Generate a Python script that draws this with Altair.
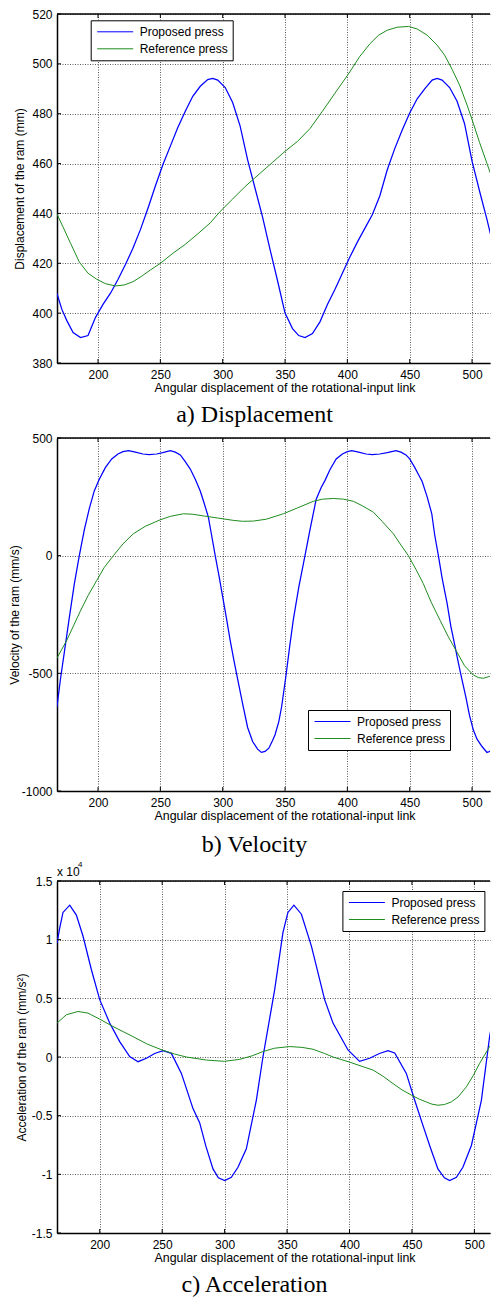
import altair as alt
import pandas as pd

SERIES = ["Proposed press", "Reference press"]
COLORS = ["#0000ff", "#1e8c1e"]
WIDTHS = [1.25, 1.0]
X_TICKS = [200, 250, 300, 350, 400, 450, 500]
X_TITLE = "Angular displacement of the rotational-input link"

# ---------- a) Displacement (mm) ----------
disp_prop_x = [167, 171, 175, 180, 186, 192, 198, 204, 210, 216, 222, 228, 234, 240, 246, 252,
               258, 264, 270, 276, 282, 288, 292, 296, 302, 308, 314, 320, 326, 332, 338, 344,
               350, 356, 361, 366, 372, 378, 384, 390, 396, 402, 408, 414, 420, 426, 432, 438,
               444, 450, 456, 462, 468, 472, 476, 482, 488, 494, 500, 506, 512, 518, 522.5]
disp_prop_y = [408, 401.5, 397, 392.2, 390.2, 391, 398.3, 403.5, 408, 413.5, 419.5, 426, 433.5, 442,
               451, 459.5, 467, 474.5, 481, 487, 491, 493.7, 494.2, 493.5, 490.5, 484.5, 475, 461.5,
               450, 438.5, 425.5, 413, 400, 393.8, 391, 390.2, 391.8, 396.5, 403.5, 409.5, 416,
               422.5, 428.5, 434, 439.5, 447, 457.5, 466, 473.5, 480.3, 486, 490, 493.5, 494.2,
               493.5, 490.5, 485, 476, 461, 449, 437.5, 425, 415]
disp_ref_x = [167, 172, 178, 185, 192, 199, 206, 214, 221, 228, 235, 242, 250, 260, 270, 280, 290,
              298, 308, 318, 330, 340, 350, 360, 370, 380, 390, 400, 410, 418, 425, 432, 440, 449,
              456, 464, 472, 478, 484, 490, 496, 501, 506, 512, 518, 522.5]
disp_ref_y = [439.8, 434.5, 428, 420.5, 416, 413.6, 411.8, 410.9, 411.3, 412.6, 414.8, 417.3, 420,
              424, 427.6, 431.8, 436.2, 440.8, 445.8, 450.8, 456.1, 460.5, 464.9, 468.9, 474, 481,
              488.2, 495.3, 503, 508, 511.5, 513.5, 514.7, 515, 514, 511.5, 507.5, 503.5, 497.8,
              491.5, 483.5, 476.2, 468.5, 460, 451.5, 445]

# ---------- b) Velocity (mm/s) ----------
vel_prop_x = [167, 170, 173, 177, 181, 185, 189, 193, 197, 201, 206, 211, 216, 220, 224.5, 230, 236,
              241, 247, 252, 258, 262, 266, 270, 274, 278, 282, 285, 288.5, 291, 294, 297, 300, 303,
              306, 309, 312, 316, 320, 324, 328, 331, 334, 337, 340, 342, 345, 347.3, 350.8, 353.5,
              356.6, 361, 366, 370, 375, 379, 382, 386, 391, 396, 400, 403.5, 409, 415, 420, 426,
              432, 439, 443, 447, 450, 454, 457, 460, 464, 467.7, 470, 473, 476, 480, 483, 486.4,
              489, 491.7, 495, 498, 501, 504, 508, 512, 514, 517, 520, 522.5]
vel_prop_y = [-645, -520, -410, -262, -120, 0, 110, 200, 275, 325, 375, 411, 432, 442, 446, 440, 432,
              429, 432, 438, 446, 440, 428, 400, 368, 325, 275, 225, 164, 90, 0, -85, -175, -265,
              -360, -445, -525, -630, -730, -790, -822, -836, -832, -818, -785, -761, -705, -641,
              -508, -395, -274, -135, 0, 110, 240, 290, 319, 365, 411, 432, 442, 446, 440, 432, 429,
              432, 438, 446, 440, 428, 411, 375, 345, 315, 250, 178, 90, 0, -95, -203, -300, -387,
              -455, -521, -600, -680, -740, -780, -811, -836, -832, -818, -785, -754]
vel_ref_x = [167, 175, 185.5, 192, 199, 205, 212.3, 220, 228.3, 238, 249.7, 258, 268.4, 276, 284.5,
             296, 308.5, 316, 324.6, 335, 348.6, 360, 372.7, 380, 388.7, 397, 404.8, 412, 420.8,
             428, 436.9, 443, 448.9, 455, 460.9, 467, 474.3, 481, 487.7, 494, 501, 505, 509.1, 514,
             518, 522.5]
vel_ref_y = [-436, -359, -239, -170, -105, -50, 0, 50, 93, 125, 152, 167, 178, 176, 169, 160, 150,
             146, 147, 155, 178, 203, 231, 240, 243, 240, 231, 212, 185, 145, 93, 45, 0, -58, -119,
             -195, -274, -345, -408, -468, -507, -518, -521, -513, -498, -475]

# ---------- c) Acceleration (x 10^4 mm/s^2) ----------
acc_prop_x = [165.8, 168, 170.6, 176, 181.3, 186.6, 193.3, 200, 208, 216, 224, 230.7, 237.4, 244,
              250.7, 257.4, 265.4, 274.7, 280, 285, 290.7, 295, 300.1, 305.4, 310.7, 317.4, 325.4,
              330.7, 340.1, 346.7, 350.7, 355.5, 361.5, 369.5, 380.1, 386.8, 398.8, 408.1, 416.1,
              424, 430.8, 436.2, 445.5, 452.2, 458.8, 465, 470.8, 476, 480.2, 485.6, 490.8, 497.6,
              505.6, 512.2, 520.3]
acc_prop_y = [0.97, 1.1, 1.232, 1.294, 1.209, 1.031, 0.746, 0.489, 0.289, 0.131, 0.003, -0.04, -0.011,
              0.03, 0.054, 0.031, -0.14, -0.44, -0.56, -0.76, -0.954, -1.03, -1.054, -1.026, -0.94,
              -0.783, -0.369, 0.0, 0.574, 1.06, 1.232, 1.294, 1.217, 0.945, 0.489, 0.289, 0.06,
              -0.037, -0.011, 0.03, 0.054, 0.034, -0.14, -0.369, -0.583, -0.78, -0.954, -1.03,
              -1.054, -1.026, -0.94, -0.754, -0.369, 0.174, 0.645]
acc_ref_x = [165.8, 173.3, 182.6, 190.6, 200, 210.6, 226.6, 238, 249.9, 260, 269.4, 285.4, 299.8,
             312, 322, 330.7, 340, 352.1, 362, 370.8, 380, 386.8, 399.9, 410, 418.8, 427, 434.8,
             442, 449.8, 456, 461.5, 466, 470.8, 476, 481.5, 487, 493.6, 499, 504.2, 512.2, 520.3]
acc_ref_y = [0.289, 0.36, 0.388, 0.374, 0.323, 0.26, 0.174, 0.11, 0.06, 0.025, 0.0, -0.026, -0.037,
             -0.02, 0.01, 0.046, 0.075, 0.089, 0.082, 0.066, 0.03, 0.0, -0.043, -0.08, -0.111,
             -0.165, -0.226, -0.28, -0.326, -0.36, -0.383, -0.402, -0.411, -0.405, -0.383, -0.34,
             -0.254, -0.16, -0.054, 0.089, 0.217]

W = 433


def make_df(x1, y1, x2, y2):
    return pd.DataFrame({
        "angle": list(x1) + list(x2),
        "value": list(y1) + list(y2),
        "series": [SERIES[0]] * len(x1) + [SERIES[1]] * len(x2),
    })


def panel(df, xdom, ydom, yticks, ytitle, title_x, height, leg_x, leg_y, caption, cap_offset,
          extra=None):
    xenc = alt.X("angle:Q",
                 scale=alt.Scale(domain=xdom, nice=False, zero=False),
                 axis=alt.Axis(values=X_TICKS, title=X_TITLE, grid=True, ticks=False,
                               domain=True, labelPadding=6, titlePadding=1,
                               titleX=97, titleAlign="left",
                               titleFontSize=12.4, labelFlush=False, labelOverlap=False))
    yenc = alt.Y("value:Q",
                 scale=alt.Scale(domain=ydom, nice=False, zero=False),
                 axis=alt.Axis(values=yticks, title=ytitle, grid=True, ticks=False,
                               domain=True, labelPadding=5, titleX=title_x,
                               titleBaseline="middle", labelFlush=False, labelOverlap=False,
                               labelExpr="datum.value + ''"))
    lines = alt.Chart(df).mark_line(clip=True).encode(
        x=xenc, y=yenc,
        color=alt.Color("series:N",
                        scale=alt.Scale(domain=SERIES, range=COLORS),
                        legend=alt.Legend(title=None, orient="none", legendX=leg_x, legendY=leg_y,
                                          direction="vertical", symbolType="stroke",
                                          symbolSize=1296, symbolStrokeWidth=1,
                                          symbolOffset=1.5, clipHeight=14,
                                          labelFontSize=12, labelFont="Liberation Sans",
                                          labelColor="black", strokeColor="black",
                                          fillColor="white", padding=4.5, rowPadding=3,
                                          labelOffset=6)),
        strokeWidth=alt.StrokeWidth("series:N", scale=alt.Scale(domain=SERIES, range=WIDTHS),
                                    legend=None),
    )
    xt = pd.DataFrame({"angle": X_TICKS})
    yt = pd.DataFrame({"value": yticks})
    top_t = alt.Chart(xt).mark_rule(color="black", strokeWidth=1).encode(
        x=xenc, y=alt.value(0), y2=alt.value(4))
    bot_t = alt.Chart(xt).mark_rule(color="black", strokeWidth=1).encode(
        x=xenc, y=alt.value(height - 4), y2=alt.value(height))
    left_t = alt.Chart(yt).mark_rule(color="black", strokeWidth=1).encode(
        y=yenc, x=alt.value(0), x2=alt.value(4))
    top_border = alt.Chart(pd.DataFrame({"k": [0]})).mark_rule(
        color="black", strokeWidth=1.5).encode(
        x=alt.value(0), x2=alt.value(W), y=alt.value(0))
    layers = [lines, top_t, bot_t, left_t, top_border]
    if extra is not None:
        layers += extra
    return alt.layer(*layers).resolve_scale(color="independent").properties(
        width=W, height=height,
        title=alt.TitleParams(caption, orient="bottom", font="Liberation Serif", fontSize=24,
                              fontWeight="normal", color="black", offset=cap_offset,
                              anchor="middle", frame="group", dx=-19),
    )


df_a = make_df(disp_prop_x, disp_prop_y, disp_ref_x, disp_ref_y)
df_b = make_df(vel_prop_x, vel_prop_y, vel_ref_x, vel_ref_y)
df_c = make_df(acc_prop_x, acc_prop_y, acc_ref_x, acc_ref_y)

one = pd.DataFrame({"k": [0]})
exp_main = alt.Chart(one).mark_text(align="left", baseline="alphabetic", fontSize=12,
                                    font="Liberation Sans", color="black").encode(
    x=alt.value(0), y=alt.value(-4.7), text=alt.value("x 10"))
exp_sup = alt.Chart(one).mark_text(align="left", baseline="alphabetic", fontSize=8,
                                   font="Liberation Sans", color="black").encode(
    x=alt.value(21), y=alt.value(-13.7), text=alt.value("4"))

pa = panel(df_a, [167.1, 514.4], [380, 520], [380, 400, 420, 440, 460, 480, 500, 520],
           "Displacement of the ram (mm)", -38, 349, 33.7, 6.3, "a) Displacement", 10)
pb = panel(df_b, [167.1, 514.4], [-1000, 500], [-1000, -500, 0, 500],
           "Velocity of the ram (mm/s)", -43, 353, 251, 272, "b) Velocity", 11.5)
pc = panel(df_c, [165.8, 512.5], [-1.5, 1.5], [-1.5, -1, -0.5, 0, 0.5, 1, 1.5],
           "Acceleration of the ram (mm/s²)", -36, 352, 285.4, 10, "c) Acceleration", 10,
           extra=[exp_main, exp_sup])

chart = alt.vconcat(pa, pb, pc, spacing=4).resolve_scale(
    color="independent", strokeWidth="independent"
).resolve_legend(color="independent").properties(
    padding={"left": 0, "top": 0, "right": 0, "bottom": 0}
).configure(font="Liberation Sans").configure_view(
    stroke=None
).configure_axis(
    labelFontSize=12, labelFont="Liberation Sans", labelColor="black",
    titleFontSize=12, titleFont="Liberation Sans", titleFontWeight="normal", titleColor="black",
    gridColor="#333333", gridDash=[1, 1.5], gridWidth=1, gridOpacity=0.8,
    domainColor="black", domainWidth=1.5
)

chart.save("out.html", embed_options={"renderer": "svg", "actions": False})
